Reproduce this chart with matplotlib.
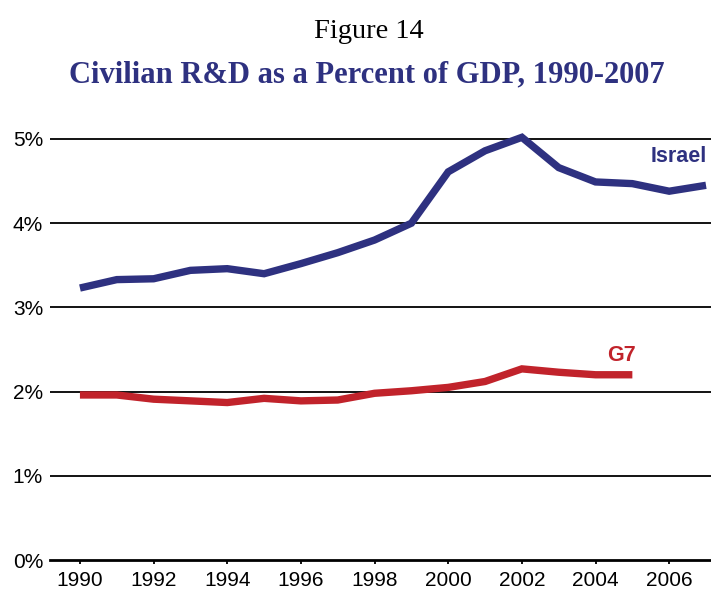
import matplotlib
matplotlib.use("Agg")
import matplotlib.pyplot as plt
from matplotlib.ticker import FuncFormatter

years = list(range(1990, 2008))
israel = [3.23, 3.33, 3.34, 3.44, 3.46, 3.40, 3.52, 3.65, 3.80, 4.00,
          4.61, 4.86, 5.02, 4.66, 4.49, 4.47, 4.38, 4.45]
g7_years = list(range(1990, 2006))
g7 = [1.96, 1.96, 1.91, 1.89, 1.87, 1.92, 1.89, 1.90, 1.98, 2.01,
      2.05, 2.12, 2.27, 2.23, 2.20, 2.20]
y_ticks = [0, 1, 2, 3, 4, 5]
x_ticks = list(range(1990, 2007, 2))

NAVY = "#2E3180"
RED = "#C1232B"

fig = plt.figure(figsize=(7.11, 5.90), dpi=100)
W, H = 711, 590
ax_left, ax_right, ax_bottom = 50, 711, 560
px_per_unit = 84.2
ymax = 5.4
ax = fig.add_axes([ax_left / W, 1 - ax_bottom / H, (ax_right - ax_left) / W,
                   ymax * px_per_unit / H])

for y in y_ticks[1:]:
    ax.axhline(y, color="black", lw=1.3, zorder=1)

ax.plot(years, israel, color=NAVY, lw=5.3, solid_capstyle="butt",
        solid_joinstyle="miter", zorder=3)
ax.plot(g7_years, g7, color=RED, lw=5.3, solid_capstyle="butt",
        solid_joinstyle="miter", zorder=3)

ax.text(2006.25, 4.79, "Israel", color=NAVY, fontsize=15.5, fontweight="bold",
        family="Liberation Sans", ha="center", va="center")
ax.text(2004.7, 2.43, "G7", color=RED, fontsize=15.5, fontweight="bold",
        family="Liberation Sans", ha="center", va="center")

ax.set_xlim(1990 - 30 / 36.9, 2007 + 5 / 36.9)
ax.set_ylim(0, ymax)
ax.set_xticks(x_ticks)
ax.set_yticks(y_ticks)
ax.yaxis.set_major_formatter(FuncFormatter(lambda v, p: f"{int(v)}%"))
for s in ["top", "right", "left"]:
    ax.spines[s].set_visible(False)
ax.spines["bottom"].set_linewidth(2.0)
ax.tick_params(axis="x", direction="out", length=3, width=1.3, pad=5,
               labelsize=15)
ax.tick_params(axis="y", length=0, pad=5, labelsize=15)
for lab in ax.get_xticklabels() + ax.get_yticklabels():
    lab.set_family("Liberation Sans")

fig.text(0.519, 1 - 32 / H, "Figure 14", ha="center", va="center",
         family="Liberation Serif", fontsize=20.5, color="black")
fig.text(0.516, 1 - 75 / H, "Civilian R&D as a Percent of GDP, 1990-2007",
         ha="center", va="center", family="Liberation Serif", fontsize=22,
         fontweight="bold", color=NAVY)

fig.savefig("out.png", dpi=100)
